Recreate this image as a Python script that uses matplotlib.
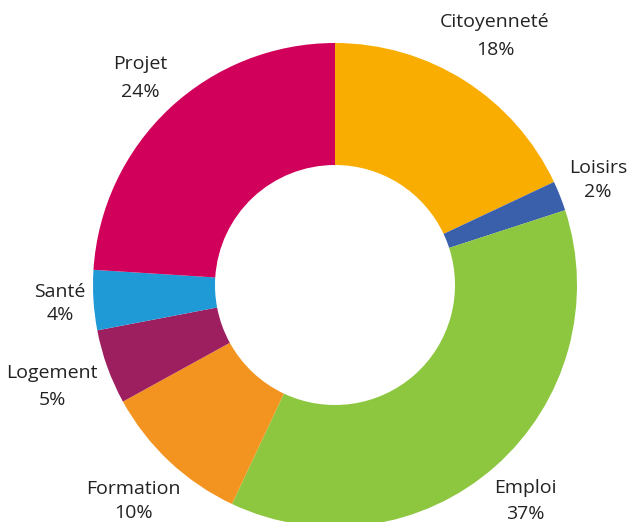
import matplotlib.pyplot as plt

plt.rcParams["font.family"] = ["Open Sans", "DejaVu Sans"]

categories = ["Citoyenneté", "Loisirs", "Emploi", "Formation", "Logement", "Santé", "Projet"]
values = [18, 2, 37, 10, 5, 4, 24]
colors = ["#F8AD00", "#3A5FAB", "#8DC63F", "#F39421", "#9E1F60", "#1F9AD6", "#D0005B"]

# label placement in pixels (x, name y, pct y) measured from top-left
label_pos = [(495, 22, 50), (598, 168, 192), (525, 488, 514), (133, 489, 513),
             (52, 373, 400), (60, 292, 315), (140, 64, 92)]

W, H = 629, 522
fig = plt.figure(figsize=(W / 100, H / 100), dpi=100)
ax = fig.add_axes([0, 0, 1, 1])
ax.set_xlim(0, W)
ax.set_ylim(0, H)
ax.set_aspect("equal")
ax.axis("off")

r_out, r_in = 242, 120
ax.pie(values, colors=colors, startangle=90, counterclock=False,
       center=(335, H - 285), radius=r_out,
       wedgeprops=dict(width=r_out - r_in, linewidth=0))
ax.set_xlim(0, W)
ax.set_ylim(0, H)

for cat, v, (x, y1, y2) in zip(categories, values, label_pos):
    ax.text(x, H - y1, cat, ha="center", va="center", fontsize=14, color="#222222")
    ax.text(x, H - y2, f"{v}%", ha="center", va="center", fontsize=14, color="#222222")

fig.savefig("out.png", dpi=100)
